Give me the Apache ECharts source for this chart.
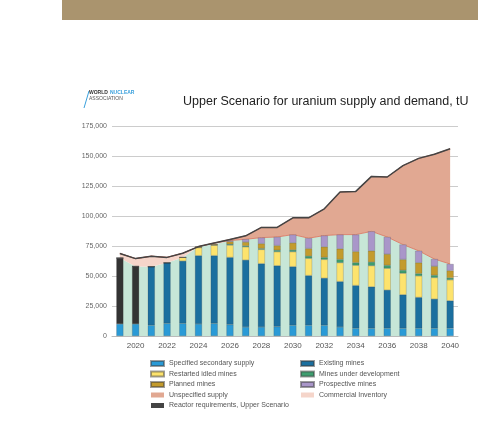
<!DOCTYPE html><html><head><meta charset="utf-8">
<script src="https://cdn.jsdelivr.net/npm/echarts@6/dist/echarts.min.js"></script>
<style>html,body{margin:0;background:#fff}#c{width:478px;height:422px}</style></head><body><div id="c"></div>
<script>
const years=['2019','2020','2021','2022','2023','2024','2025','2026','2027','2028','2029','2030','2031','2032','2033','2034','2035','2036','2037','2038','2039','2040'];
const secondary=[10000,10000,9000,10500,10500,10000,10500,9500,7500,7500,7800,9000,9000,9000,7500,6500,6500,6500,6500,6500,6500,6500];
const existing=[55000,48000,48800,50500,52000,57000,56500,56000,55800,52800,50800,48800,41400,39200,37900,35600,34500,31800,27900,25700,24300,22900];
const restarted=[0,0,0,0,3000,6700,8700,10200,11000,11800,11600,12400,14300,15600,15700,16800,17600,18100,17900,17900,17900,17400];
const underDev=[0,0,0,0,0,0,0,800,800,800,1300,1500,1900,1700,2700,2200,3000,2500,2500,1900,1900,1600];
const planned=[0,0,0,0,0,800,800,2200,3100,4100,3900,5900,6300,8800,8900,9300,9400,9300,9000,9100,7500,6100];
const prospective=[0,0,0,0,0,0,0,800,2400,5000,7100,6900,8600,9400,11800,14100,16200,14300,12400,9900,6000,5500];
const identified=[65000,58000,57800,61000,65500,74500,76500,79500,80600,82000,82500,84500,81500,83700,84500,84500,87200,82500,76200,71000,64100,60000];
const commercial=[3800,6500,8700,4500,3500,0,1000,0,0,0,0,0,0,0,0,0,0,0,0,0,0,0];
const unspecified=[0,0,0,0,0,0,0,1000,2900,8500,8000,14000,17000,22300,35500,36000,45800,50000,65800,77000,87400,96000];
const reactor=[68800,64500,66500,65500,69000,74500,77500,80500,83500,90500,90500,98500,98500,106000,120000,120500,133000,132500,142000,148000,151500,156000];
const yTicks=[0,25000,50000,75000,100000,125000,150000,175000];

const chart=echarts.init(document.getElementById('c'));
function bar(name,data,color,dark){
  return {name,type:'bar',stack:'b',data:data.map((v,i)=>dark&&i<2?{value:v,itemStyle:{color:'#333'}}:v),barWidth:7,z:5,
    itemStyle:{color,borderColor:'rgba(60,60,60,0.5)',borderWidth:0.4}};
}
function area(name,data,color,lineColor){
  return {name,type:'line',stack:'a',data,symbol:'none',z:2,lineStyle:{width:lineColor?0.8:0,color:lineColor||color},areaStyle:{color,opacity:1},itemStyle:{color}};
}
const lg={textStyle:{fontSize:7,color:'#555',fontFamily:'Liberation Sans'},itemWidth:13,itemHeight:5,orient:'vertical',itemGap:3.5,top:355,icon:'rect'};
chart.setOption({
  animation:false,
  textStyle:{fontFamily:'Liberation Sans'},
  graphic:[
    {type:'rect',shape:{x:62,y:0,width:416,height:20},style:{fill:'#aa946e'}},
    {type:'line',shape:{x1:84,y1:108,x2:89,y2:91},style:{stroke:'#3aa0dc',lineWidth:1}},
    {type:'text',left:89,top:90,style:{text:'WORLD ',fontSize:5,fontWeight:'bold',fill:'#333'}},
    {type:'text',left:110,top:90,style:{text:'NUCLEAR',fontSize:5,fontWeight:'bold',fill:'#3aa0dc'}},
    {type:'text',left:89,top:96,style:{text:'ASSOCIATION',fontSize:5,fill:'#555'}}
  ],
  title:{text:'Upper Scenario for uranium supply and demand, tU',left:178,top:90,textStyle:{fontSize:12.5,fontWeight:'normal',color:'#222'}},
  grid:{left:112,right:20,top:126,bottom:86},
  xAxis:{type:'category',data:years,axisTick:{show:false},axisLine:{lineStyle:{color:'#bbb'}},
    axisLabel:{interval:(i)=>i%2===1,fontSize:8,color:'#555',margin:6}},
  yAxis:{type:'value',min:0,max:175000,interval:25000,
    axisLabel:{fontSize:7,color:'#666',margin:5,formatter:v=>v.toLocaleString('en-US')},
    splitLine:{lineStyle:{color:'#ccc',width:1}}},
  legend:[
    Object.assign({},lg,{left:145,data:['Specified secondary supply','Restarted idled mines','Planned mines','Unspecified supply','Reactor requirements, Upper Scenario']}),
    Object.assign({},lg,{left:295,data:['Existing mines','Mines under development','Prospective mines','Commercial Inventory']})
  ],
  series:[
    area('Identified',identified,'#c7e6d7'),
    area('Commercial Inventory',commercial,'#f5d5ca','#d9705a'),
    area('Unspecified supply',unspecified,'#e1a892','#c8604a'),
    bar('Specified secondary supply',secondary,'#2a9ad6'),
    bar('Existing mines',existing,'#1b6f9f',true),
    bar('Restarted idled mines',restarted,'#fde36d'),
    bar('Mines under development',underDev,'#3d9e6f'),
    bar('Planned mines',planned,'#c39b2d'),
    bar('Prospective mines',prospective,'#a996c9'),
    {name:'Reactor requirements, Upper Scenario',type:'line',data:reactor,symbol:'none',z:6,lineStyle:{color:'#444',width:1.5},itemStyle:{color:'#444'}}
  ]
});
</script></body></html>
